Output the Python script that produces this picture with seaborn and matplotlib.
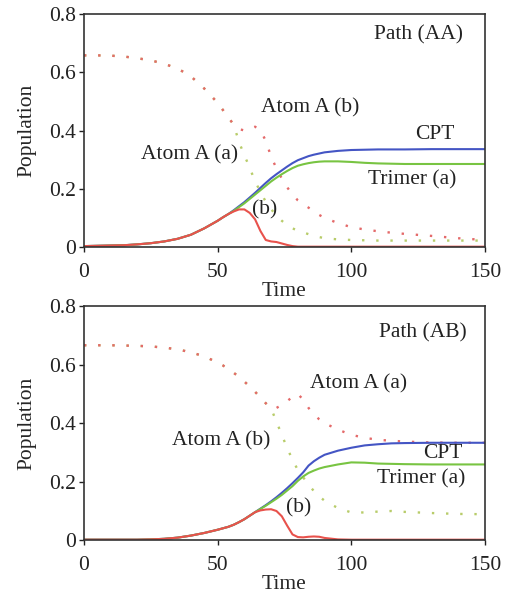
import matplotlib
matplotlib.use("Agg")
import matplotlib.pyplot as plt
import seaborn as sns
import pandas as pd

sns.set_theme(style="ticks")
plt.rcParams['font.family'] = ['Liberation Serif', 'DejaVu Serif']
plt.rcParams['mathtext.fontset'] = 'stix'

# ---------------- data ----------------
time = [0, 5, 10, 15, 20, 25, 30, 35, 40, 45, 50, 52, 54, 56, 58, 60, 62, 64, 66, 68,
        70, 72, 74, 76, 78, 80, 82, 84, 86, 88, 90, 95, 100, 105, 110, 115, 120, 130, 140, 150]

# Path (AA)
aa_cpt = [0.003, 0.004, 0.005, 0.006, 0.009, 0.013, 0.019, 0.028, 0.042, 0.064, 0.090, 0.102, 0.113,
          0.126, 0.140, 0.154, 0.170, 0.186, 0.203, 0.220, 0.236, 0.250, 0.263, 0.276, 0.288, 0.298,
          0.305, 0.312, 0.317, 0.321, 0.325, 0.330, 0.333, 0.334, 0.335, 0.335, 0.335, 0.336, 0.336, 0.336]
aa_trimer = [0.003, 0.004, 0.005, 0.006, 0.009, 0.013, 0.019, 0.028, 0.042, 0.064, 0.090, 0.102, 0.113,
             0.124, 0.137, 0.150, 0.165, 0.180, 0.195, 0.210, 0.225, 0.238, 0.250, 0.261, 0.271, 0.279,
             0.284, 0.288, 0.291, 0.293, 0.294, 0.294, 0.292, 0.289, 0.287, 0.286, 0.285, 0.285, 0.285, 0.285]
aa_trimer_b = [0.003, 0.004, 0.005, 0.006, 0.009, 0.013, 0.019, 0.028, 0.042, 0.064, 0.090, 0.102, 0.113,
               0.122, 0.129, 0.129, 0.117, 0.095, 0.055, 0.024, 0.019, 0.017, 0.012, 0.007, 0.003, 0.001,
               0.001, 0.001, 0.001, 0.001, 0.001, 0.001, 0.001, 0.001, 0.001, 0.001, 0.001, 0.001, 0.001, 0.001]
aa_atom_b = [0.658, 0.658, 0.657, 0.654, 0.648, 0.641, 0.629, 0.613, 0.586, 0.544, 0.495, 0.470, 0.445,
             0.420, 0.405, 0.400, 0.405, 0.413, 0.400, 0.365, 0.310, 0.270, 0.235, 0.205, 0.180, 0.160,
             0.147, 0.135, 0.123, 0.110, 0.100, 0.082, 0.068, 0.060, 0.054, 0.049, 0.045, 0.038, 0.030, 0.024]
aa_atom_a = [0.658, 0.658, 0.657, 0.654, 0.648, 0.641, 0.629, 0.613, 0.586, 0.544, 0.495, 0.470, 0.445,
             0.420, 0.360, 0.315, 0.272, 0.225, 0.190, 0.155, 0.130, 0.107, 0.090, 0.075, 0.064, 0.056,
             0.050, 0.044, 0.038, 0.034, 0.030, 0.026, 0.024, 0.023, 0.022, 0.022, 0.022, 0.022, 0.022, 0.022]

# Path (AB)
ab_cpt = [0.002, 0.002, 0.002, 0.002, 0.002, 0.003, 0.005, 0.009, 0.016, 0.025, 0.036, 0.041, 0.046,
          0.053, 0.062, 0.072, 0.084, 0.096, 0.108, 0.120, 0.133, 0.147, 0.162, 0.178, 0.195, 0.213,
          0.232, 0.255, 0.270, 0.282, 0.292, 0.306, 0.316, 0.324, 0.328, 0.331, 0.332, 0.333, 0.333, 0.333]
ab_trimer = [0.002, 0.002, 0.002, 0.002, 0.002, 0.003, 0.005, 0.009, 0.016, 0.025, 0.036, 0.041, 0.046,
             0.053, 0.062, 0.072, 0.084, 0.096, 0.107, 0.118, 0.130, 0.142, 0.155, 0.170, 0.185, 0.203,
             0.218, 0.230, 0.238, 0.245, 0.250, 0.259, 0.266, 0.265, 0.262, 0.261, 0.260, 0.259, 0.259, 0.259]
ab_trimer_b = [0.002, 0.002, 0.002, 0.002, 0.002, 0.003, 0.005, 0.009, 0.016, 0.025, 0.036, 0.041, 0.046,
               0.053, 0.062, 0.072, 0.084, 0.096, 0.102, 0.105, 0.106, 0.100, 0.082, 0.050, 0.020, 0.011,
               0.010, 0.012, 0.013, 0.012, 0.008, 0.003, 0.002, 0.002, 0.002, 0.002, 0.002, 0.002, 0.002, 0.002]
ab_atom_a = [0.666, 0.666, 0.666, 0.665, 0.664, 0.662, 0.658, 0.652, 0.642, 0.628, 0.607, 0.597, 0.585,
             0.572, 0.558, 0.542, 0.525, 0.507, 0.488, 0.468, 0.450, 0.452, 0.462, 0.475, 0.490, 0.500,
             0.480, 0.452, 0.430, 0.413, 0.400, 0.378, 0.360, 0.350, 0.343, 0.340, 0.337, 0.334, 0.333, 0.333]
ab_atom_b = [0.666, 0.666, 0.666, 0.665, 0.664, 0.662, 0.658, 0.652, 0.642, 0.628, 0.607, 0.597, 0.585,
             0.572, 0.558, 0.542, 0.525, 0.507, 0.488, 0.468, 0.450, 0.405, 0.360, 0.315, 0.275, 0.240,
             0.215, 0.190, 0.168, 0.150, 0.135, 0.110, 0.095, 0.095, 0.098, 0.100, 0.097, 0.093, 0.090, 0.089]

x_ticks = [0, 50, 100, 150]
y_ticks = [0, 0.2, 0.4, 0.6, 0.8]
y_tick_labels = ["0", "0.2", "0.4", "0.6", "0.8"]

panels = [
    dict(cpt=aa_cpt, trimer=aa_trimer, tb=aa_trimer_b, red_dot=aa_atom_b, green_dot=aa_atom_a,
         labels=[("Path (AA)", 125, 0.729), ("Atom A (b)", 84.5, 0.478), ("CPT", 131.3, 0.385),
                 ("Atom A (a)", 39.6, 0.316), ("Trimer (a)", 122.7, 0.230), ("(b)", 67.7, 0.127)]),
    dict(cpt=ab_cpt, trimer=ab_trimer, tb=ab_trimer_b, red_dot=ab_atom_a, green_dot=ab_atom_b,
         labels=[("Path (AB)", 126.9, 0.708), ("Atom A (a)", 102.6, 0.533), ("Atom A (b)", 51.5, 0.339),
                 ("CPT", 134.4, 0.298), ("Trimer (a)", 126.3, 0.210), ("(b)", 80.2, 0.111)]),
]

BLUE = "#4455c4"
GREEN = "#78c442"
RED = "#e8524c"
RED_DOT = "#e46a6a"
GREEN_DOT = "#b8cc6a"

fig = plt.figure(figsize=(5.13, 5.97), dpi=100)
axes_pos = [[0.1637, 0.5863, 0.7817, 0.3902], [0.1637, 0.0950, 0.7817, 0.3924]]

FS = 15.5
for pos, p in zip(axes_pos, panels):
    ax = fig.add_axes(pos)
    sns.lineplot(x=time, y=p["green_dot"], ax=ax, color=GREEN_DOT, lw=1.7, linestyle=(0, (1, 5)))
    sns.lineplot(x=time, y=p["red_dot"], ax=ax, color=RED_DOT, lw=1.7, linestyle=(0, (1, 5)))
    sns.lineplot(x=time, y=p["cpt"], ax=ax, color=BLUE, lw=1.5)
    sns.lineplot(x=time, y=p["trimer"], ax=ax, color=GREEN, lw=1.5)
    sns.lineplot(x=time, y=p["tb"], ax=ax, color=RED, lw=1.5)
    ax.set_xlim(0, 150)
    ax.set_ylim(0, 0.8)
    ax.set_xticks(x_ticks)
    ax.set_xticklabels([str(v) for v in x_ticks])
    ax.set_yticks(y_ticks)
    ax.set_yticklabels(y_tick_labels)
    ax.tick_params(direction="out", length=3.5, width=1, labelsize=FS,
                   top=False, right=False, colors="#222222")
    ax.tick_params(axis="x", pad=8)
    ax.tick_params(axis="y", pad=2)
    for s in ax.spines.values():
        s.set_visible(True)
        s.set_linewidth(1.2)
        s.set_color("#333333")
    ax.set_xlabel("Time", fontsize=FS, labelpad=0)
    ax.set_ylabel("Population", fontsize=FS, labelpad=9)
    for txt, x, y in p["labels"]:
        ax.text(x, y, txt, fontsize=FS, ha="center", va="center", color="#222222")

fig.savefig("out.png", dpi=100)
